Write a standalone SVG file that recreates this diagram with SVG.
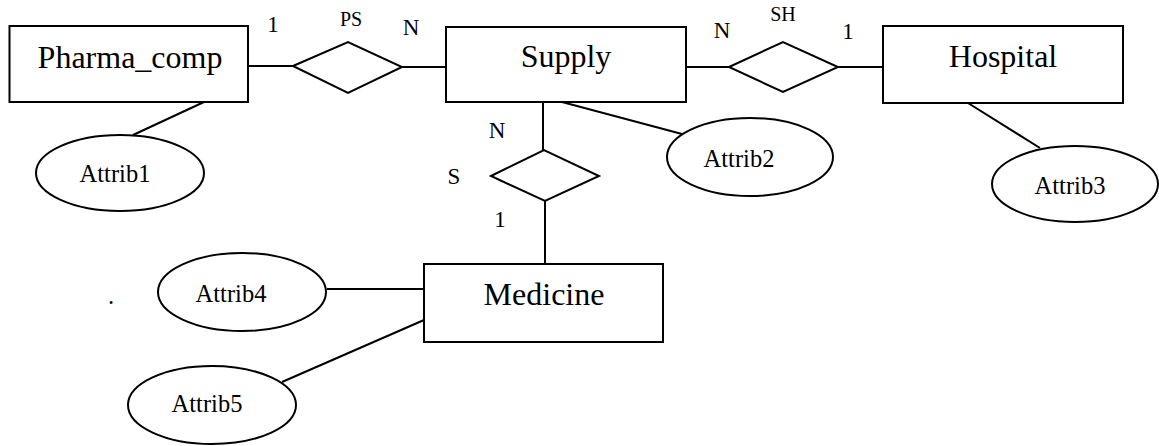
<svg xmlns="http://www.w3.org/2000/svg" width="1159" height="446" viewBox="0 0 1159 446" font-family="'Liberation Serif', 'DejaVu Serif', serif">
<style>
.shape{fill:#fff;stroke:#000;stroke-width:2}
.ln{stroke:#000;stroke-width:2;fill:none}
text{font-family:'Liberation Serif','DejaVu Serif',serif;fill:#000;text-anchor:middle}
.ent{font-size:32px}
.att{font-size:24.5px}
.card{font-size:23px}
.rel{font-size:20px}
</style>
<rect width="1159" height="446" fill="#fff"/>
<g id="connectors">
<line class="ln" x1="248" y1="66" x2="293" y2="66"/>
<line class="ln" x1="402" y1="67" x2="446" y2="67"/>
<line class="ln" x1="686" y1="67" x2="729" y2="67"/>
<line class="ln" x1="838" y1="67" x2="883" y2="67"/>
<line class="ln" x1="543" y1="102" x2="543" y2="150"/>
<line class="ln" x1="545" y1="201" x2="545" y2="264"/>
<line class="ln" x1="204" y1="102" x2="133" y2="135"/>
<line class="ln" x1="562" y1="102" x2="682" y2="134"/>
<line class="ln" x1="968" y1="103" x2="1040" y2="148"/>
<line class="ln" x1="327" y1="289" x2="424" y2="289"/>
<line class="ln" x1="424" y1="320" x2="282" y2="382"/>
</g>
<g id="pharma_comp"><rect class="shape" x="9.5" y="26" width="238.5" height="76"/><text class="ent" x="130" y="68">Pharma_comp</text></g>
<g id="supply"><rect class="shape" x="446" y="27" width="240" height="75"/><text class="ent" x="566" y="67">Supply</text></g>
<g id="hospital"><rect class="shape" x="883" y="26" width="240" height="77"/><text class="ent" x="1003" y="67">Hospital</text></g>
<g id="medicine"><rect class="shape" x="424" y="264" width="239" height="78"/><text class="ent" x="544" y="305">Medicine</text></g>
<g id="rel_ps"><polygon class="shape" points="293,66 348,42 402,67 348,93"/><text class="rel" x="351" y="26">PS</text><text class="card" x="273" y="32">1</text><text class="card" x="411" y="35">N</text></g>
<g id="rel_sh"><polygon class="shape" points="729,67 783,42 838,67 783,92"/><text class="rel" x="783" y="21">SH</text><text class="card" x="722" y="38">N</text><text class="card" x="848" y="39">1</text></g>
<g id="rel_s"><polygon class="shape" points="491,176 544,150 599,176 545,201"/><text class="card" x="454" y="184">S</text><text class="card" x="497" y="138">N</text><text class="card" x="500" y="227">1</text></g>
<g id="attrib1"><ellipse class="shape" cx="120" cy="173" rx="84" ry="38"/><text class="att" x="115" y="182">Attrib1</text></g>
<g id="attrib2"><ellipse class="shape" cx="750" cy="157" rx="83" ry="39"/><text class="att" x="739" y="167">Attrib2</text></g>
<g id="attrib3"><ellipse class="shape" cx="1075" cy="184" rx="83" ry="38"/><text class="att" x="1070" y="194">Attrib3</text></g>
<g id="attrib4"><ellipse class="shape" cx="242" cy="292" rx="84" ry="39"/><text class="att" x="231" y="302">Attrib4</text></g>
<g id="attrib5"><ellipse class="shape" cx="212" cy="405" rx="84" ry="39"/><text class="att" x="207" y="412">Attrib5</text></g>
<text class="att" x="111" y="304">.</text>
</svg>
